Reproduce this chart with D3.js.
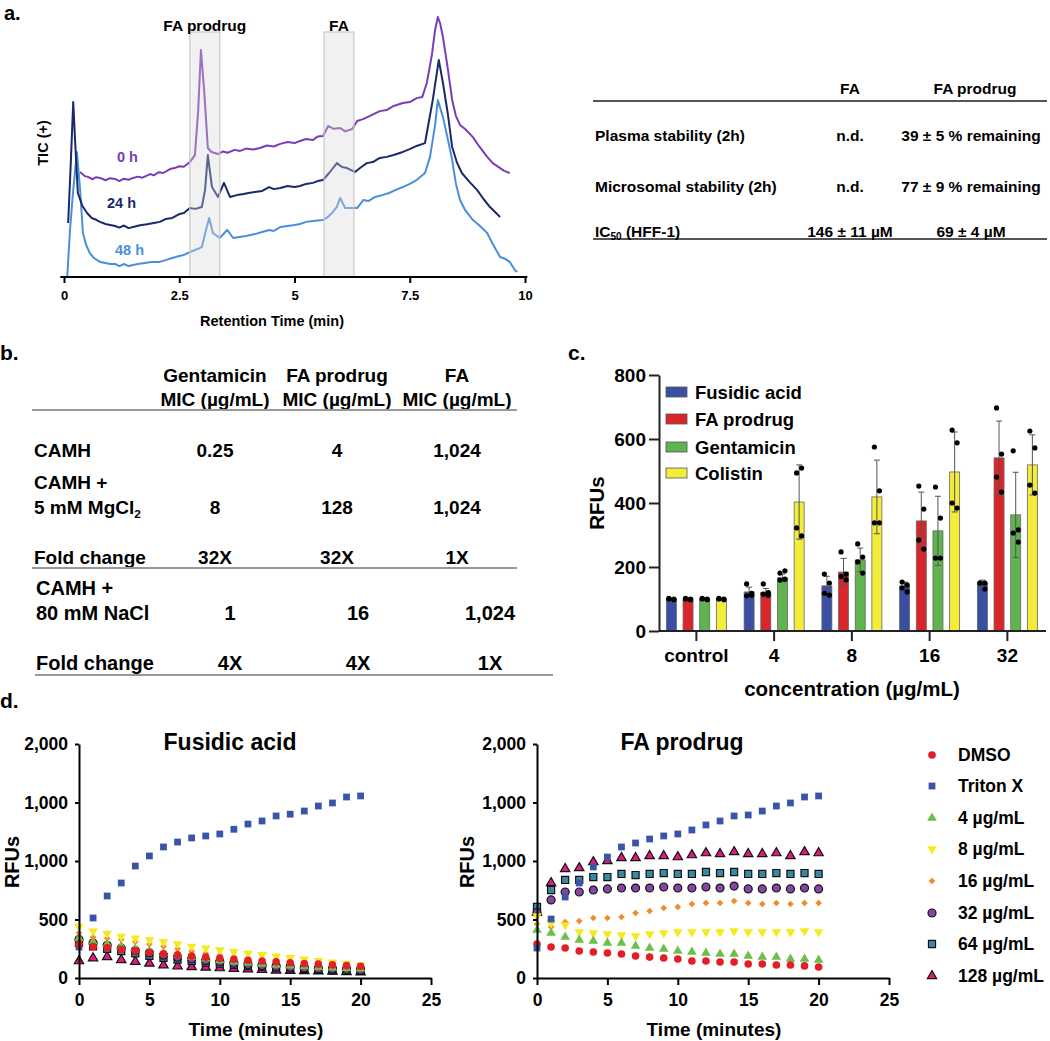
<!DOCTYPE html>
<html><head><meta charset="utf-8">
<script src="https://cdn.jsdelivr.net/npm/d3@7"></script>
<style>
body{margin:0;background:#fff;}
svg text{font-family:"Liberation Sans",Arial,Helvetica,sans-serif;font-weight:bold;fill:#000;}
</style></head><body>
<svg id="fig" width="1050" height="1041"></svg>
<script>
// ---------------- DATA ----------------
// Panel a: chromatograms [retention time (min), relative TIC]
const trace0h = [[0.35,40.4],[0.45,38.8],[0.52,38.5],[0.62,37.6],[0.7,38.4],[0.78,38.1],[0.9,37.2],[1.0,38.0],[1.11,37.7],[1.2,36.9],[1.3,37.8],[1.4,37.4],[1.5,38.1],[1.6,38.6],[1.7,38.2],[1.87,39.6],[1.95,39.1],[2.05,40.3],[2.15,40.0],[2.3,41.5],[2.4,41.9],[2.5,42.6],[2.6,42.4],[2.73,44.2],[2.84,46.9],[2.91,63.8],[2.97,87.3],[3.04,71.9],[3.12,49.6],[3.2,48.1],[3.34,47.3],[3.45,48.3],[3.55,47.8],[3.7,48.9],[3.82,48.5],[3.95,49.4],[4.1,49.0],[4.25,49.6],[4.4,50.6],[4.55,50.2],[4.69,51.2],[4.85,51.9],[5.0,51.5],[5.12,52.3],[5.25,53.1],[5.4,52.7],[5.5,54.0],[5.62,54.2],[5.73,58.1],[5.85,57.0],[5.99,57.3],[6.1,56.0],[6.25,56.9],[6.36,60.0],[6.5,60.8],[6.65,62.1],[6.85,63.8],[7.0,64.2],[7.15,65.8],[7.35,66.9],[7.5,67.3],[7.65,68.8],[7.77,69.2],[7.87,74.6],[7.98,85.4],[8.05,95.0],[8.11,100],[8.16,97.5],[8.22,92.3],[8.33,79.6],[8.42,68.1],[8.5,62.0],[8.59,58.5],[8.7,56.9],[8.87,53.8],[9.0,50.4],[9.18,46.2],[9.3,43.8],[9.46,41.9],[9.55,40.8],[9.67,40.0]];
const trace24h = [[0.09,20.8],[0.15,45.0],[0.2,67.3],[0.24,52.7],[0.3,32.3],[0.4,27.3],[0.5,24.6],[0.6,22.7],[0.7,22.0],[0.78,21.2],[0.9,20.4],[1.0,20.0],[1.11,19.6],[1.2,19.0],[1.3,19.8],[1.4,18.8],[1.5,19.2],[1.65,19.9],[1.8,20.3],[1.95,20.8],[2.08,21.2],[2.2,22.3],[2.35,22.7],[2.5,24.2],[2.6,24.6],[2.73,26.5],[2.85,26.2],[2.99,26.9],[3.06,33.5],[3.12,46.9],[3.17,40.0],[3.21,34.6],[3.34,30.8],[3.47,36.2],[3.6,30.8],[3.75,31.5],[3.9,31.9],[4.0,32.3],[4.14,32.7],[4.3,33.1],[4.45,34.6],[4.55,33.8],[4.69,34.2],[4.85,35.0],[5.0,34.6],[5.12,35.0],[5.25,35.8],[5.4,36.2],[5.5,36.9],[5.62,37.3],[5.75,40.0],[5.92,43.8],[6.03,42.3],[6.14,41.9],[6.31,40.4],[6.45,42.3],[6.57,43.8],[6.7,44.2],[6.85,45.8],[7.0,46.2],[7.15,46.9],[7.35,48.1],[7.5,49.2],[7.65,50.4],[7.83,51.5],[7.87,55.4],[8.0,68.1],[8.13,83.5],[8.22,74.6],[8.33,62.3],[8.42,50.0],[8.52,44.2],[8.63,40.0],[8.8,36.5],[8.96,33.5],[9.1,30.0],[9.24,26.9],[9.35,25.0],[9.46,23.1]];
const trace48h = [[0.07,0],[0.13,18.1],[0.2,33.5],[0.28,48.1],[0.35,33.5],[0.41,16.9],[0.48,12.3],[0.56,9.2],[0.65,7.3],[0.78,5.8],[0.9,5.4],[1.0,5.0],[1.11,5.0],[1.2,4.2],[1.3,5.0],[1.4,4.2],[1.5,4.6],[1.6,5.0],[1.75,5.4],[1.9,5.8],[2.08,5.8],[2.2,6.5],[2.35,7.3],[2.5,8.1],[2.6,8.5],[2.73,9.6],[2.85,10.4],[2.99,11.5],[3.08,18.1],[3.15,22.7],[3.23,16.9],[3.38,15.0],[3.54,18.1],[3.67,15.0],[3.8,15.4],[3.95,15.8],[4.14,16.5],[4.3,17.3],[4.45,18.1],[4.55,17.7],[4.69,19.2],[4.85,19.6],[5.0,20.0],[5.12,20.4],[5.25,21.2],[5.4,21.5],[5.62,21.9],[5.72,23.0],[5.81,24.6],[5.92,27.0],[5.99,30.4],[6.1,26.5],[6.25,26.5],[6.36,26.5],[6.49,29.6],[6.6,29.2],[6.75,30.8],[6.9,31.5],[7.05,32.3],[7.2,33.5],[7.35,34.6],[7.5,35.8],[7.65,37.3],[7.83,40.0],[7.94,46.2],[8.05,58.5],[8.11,68.1],[8.22,61.5],[8.33,52.7],[8.42,45.0],[8.5,36.0],[8.59,29.6],[8.7,25.8],[8.87,21.9],[9.0,20.0],[9.18,16.9],[9.3,12.7],[9.46,7.7],[9.58,6.9],[9.67,5.8],[9.78,2.7],[9.83,1.9]];
const traceLabels = ["0 h", "24 h", "48 h"];
const bandProdrug = [2.73, 3.38];
const bandFA = [5.64, 6.29];
const bandLabels = ["FA prodrug", "FA"];
const chromTicks = [0, 2.5, 5, 7.5, 10];

// Panel a table
const tableAColumns = ["FA", "FA prodrug"];
const tableARowLabels = ["Plasma stability (2h)", "Microsomal stability (2h)", "IC50 (HFF-1)"];
const tableAFA = ["n.d.", "n.d.", "146 ± 11 µM"];
const tableAProdrug = ["39 ± 5 % remaining", "77 ± 9 % remaining", "69 ± 4 µM"];

// Panel b table
const tableBHead1 = ["Gentamicin", "FA prodrug", "FA"];
const tableBHead2 = ["MIC (µg/mL)", "MIC (µg/mL)", "MIC (µg/mL)"];
const tableBMg = [["CAMH"], ["CAMH +", "5 mM MgCl2"], ["Fold change"]];
const tableBMgVals = [["0.25", "4", "1,024"], ["8", "128", "1,024"], ["32X", "32X", "1X"]];
const tableBNa = [["CAMH +", "80 mM NaCl"], ["Fold change"]];
const tableBNaVals = [["1", "16", "1,024"], ["4X", "4X", "1X"]];

// Panel c
const concCategories = ["control", "4", "8", "16", "32"];
const seriesC = ["Fusidic acid", "FA prodrug", "Gentamicin", "Colistin"];
const meanFA = [100, 122, 141, 141, 150];
const meanProdrug = [100, 121, 184, 344, 541];
const meanGent = [100, 166, 222, 313, 363];
const meanColistin = [100, 403, 419, 497, 519];
const sdFA = [3, 15, 30, 12, 9];
const sdProdrug = [3, 12, 43, 90, 115];
const sdGent = [3, 12, 37, 108, 133];
const sdColistin = [3, 116, 115, 125, 94];
const ptsFA = [[100,98,102,100],[147,118,110,112],[178,150,118,112],[153,144,134,122],[150,150,150,131]];
const ptsProdrug = [[100,98,102,100],[147,120,115,112],[247,178,170,160],[453,381,284,256],[697,553,481,434]];
const ptsGent = [[100,98,102,100],[181,188,159,162],[272,231,216,181],[450,353,228,228],[563,316,306,278]];
const ptsColistin = [[100,98,102,100],[494,509,322,297],[575,438,338,338],[628,588,400,384],[625,572,456,431]];
const yTicksC = [0, 200, 400, 600, 800];

// Panel d
const timesD = [0,1,2,3,4,5,6,7,8,9,10,11,12,13,14,15,16,17,18,19,20];
const legendD = ["DMSO", "Triton X", "4 µg/mL", "8 µg/mL", "16 µg/mL", "32 µg/mL", "64 µg/mL", "128 µg/mL"];
const yTickValsD = [0, 500, 1000, 1500, 2000];
const yTickLabelsD = ["0", "500", "1,000", "1,000", "2,000"];
const xTicksD = [0, 5, 10, 15, 20, 25];
// Fusidic acid
const faDMSO  = [290,268,258,244,232,218,207,197,187,178,168,160,152,145,138,130,124,118,112,106,100];
const faTriton= [265,513,701,812,957,1043,1120,1162,1197,1214,1231,1271,1316,1342,1385,1400,1427,1470,1496,1547,1556];
const fa4     = [340,310,290,270,250,230,210,195,180,165,150,140,130,120,112,105,98,92,88,84,80];
const fa8     = [440,400,380,355,340,325,310,290,270,255,240,225,212,198,185,172,160,148,135,122,110];
const fa16    = [385,350,340,330,310,290,270,250,230,210,195,180,165,150,140,130,120,110,100,95,90];
const fa32    = [330,300,280,255,235,215,195,178,162,150,138,126,116,106,98,92,86,80,76,72,68];
const fa64    = [300,270,250,230,210,190,172,158,144,132,122,112,104,96,88,82,76,70,66,62,60];
const fa128   = [145,170,180,155,140,125,110,100,95,90,85,80,75,70,65,62,60,58,55,52,50];
// FA prodrug
const pdDMSO  = [291,265,256,231,222,214,205,188,179,171,162,145,145,137,137,120,120,111,111,103,94];
const pdTriton= [256,504,692,812,949,1034,1120,1154,1188,1214,1231,1265,1308,1342,1385,1393,1427,1470,1496,1547,1556];
const pd4     = [410,385,350,325,316,299,299,273,256,248,231,222,214,205,205,188,179,179,162,162,154];
const pd8     = [530,470,453,393,385,376,368,359,376,385,393,393,393,393,402,393,393,393,393,402,393];
const pd16    = [462,436,479,487,513,513,521,556,573,598,607,632,641,641,658,641,632,641,632,641,641];
const pd32    = [560,667,735,735,752,761,769,769,769,778,769,769,778,769,786,761,761,769,761,769,761];
const pd64    = [607,752,838,838,863,863,889,880,889,897,889,889,906,897,906,889,889,897,889,897,889];
const pd128   = [560,812,932,940,991,1000,1026,1026,1043,1043,1034,1051,1068,1060,1077,1060,1060,1068,1043,1077,1068];

// ---------------- DRAW ----------------
const svg = d3.select("#fig");
function T(g, x, y, s, size, anchor, base) {
  return g.append("text").attr("x", x).attr("y", y).attr("font-size", size)
    .attr("text-anchor", anchor || "start").attr("dominant-baseline", base || "central").text(s);
}
// panel letters
T(svg, 4, 20, "a.", 20, "start", "auto");
T(svg, 0, 360, "b.", 21, "start", "auto");
T(svg, 568, 360, "c.", 21, "start", "auto");
T(svg, 0, 708, "d.", 21, "start", "auto");

// ===== Panel a chromatogram =====
const xA = d3.scaleLinear().domain([0, 10]).range([64, 525]);
const yA = d3.scaleLinear().domain([0, 100]).range([277, 17]);
const gA = svg.append("g");
const chromColors = ["#7a3db8", "#19296a", "#4a8fdc"];
const line = d3.line().x(d => xA(d[0])).y(d => yA(d[1]));
[trace48h, trace24h, trace0h].forEach((tr, i) => {
  gA.append("path").attr("d", line(tr)).attr("fill", "none")
    .attr("stroke", chromColors[2 - i]).attr("stroke-width", 2).attr("stroke-linejoin", "round");
});
[bandProdrug, bandFA].forEach((b, i) => {
  gA.append("rect").attr("x", xA(b[0])).attr("width", xA(b[1]) - xA(b[0]))
    .attr("y", 32).attr("height", yA(0) - 32)
    .attr("fill", "#d8d8d8").attr("fill-opacity", 0.35).attr("stroke", "#c8c8c8").attr("stroke-width", 1.2);
  T(gA, (xA(b[0]) + xA(b[1])) / 2, 25, bandLabels[i], 15.5, "middle");
});
const axA = gA.append("g").attr("transform", "translate(0,277)")
  .call(d3.axisBottom(xA).tickValues(chromTicks).tickFormat(d => d).tickSize(6).tickSizeOuter(0).tickPadding(8));
axA.select(".domain").attr("d", `M${xA(-0.08)},0H${xA(10.05)}`).attr("stroke-width", 2.2);
axA.selectAll(".tick line").attr("stroke-width", 2);
axA.selectAll(".tick text").attr("font-size", 13);
T(gA, 272, 321, "Retention Time (min)", 14.5, "middle");
T(gA, 0, 0, "TIC (+)", 14.5, "middle").attr("transform", "translate(43,143) rotate(-90)");
const labPos = [[117, 157], [107, 203], [115, 250]];
traceLabels.forEach((s, i) => T(gA, labPos[i][0], labPos[i][1], s, 14.5).style("fill", chromColors[i]));

// ===== Panel a table =====
const gTA = svg.append("g");
gTA.append("line").attr("x1", 593).attr("x2", 1047).attr("y1", 101).attr("y2", 101).attr("stroke", "#555").attr("stroke-width", 1.8);
gTA.append("line").attr("x1", 593).attr("x2", 1047).attr("y1", 239).attr("y2", 239).attr("stroke", "#555").attr("stroke-width", 1.8);
const colAX = [850, 975];
tableAColumns.forEach((c, i) => T(gTA, colAX[i], 88, c, 15.5, "middle"));
const rowAY = [135, 186, 231];
tableARowLabels.forEach((r, i) => {
  if (r.startsWith("IC50")) {
    const t = gTA.append("text").attr("x", 595).attr("y", rowAY[i]).attr("font-size", 15.5).attr("dominant-baseline", "central");
    t.append("tspan").text("IC");
    t.append("tspan").text("50").attr("font-size", 10).attr("dy", 5);
    t.append("tspan").text(r.slice(4)).attr("dy", -5);
  } else T(gTA, 595, rowAY[i], r, 15.5);
  T(gTA, colAX[0], rowAY[i], tableAFA[i], 15.5, "middle");
  T(gTA, colAX[1] - 4, rowAY[i], tableAProdrug[i], 15.5, "middle");
});

// ===== Panel b table =====
const gB = svg.append("g");
const colBX = [215, 337, 457];
tableBHead1.forEach((s, i) => T(gB, colBX[i], 375, s, 19, "middle"));
tableBHead2.forEach((s, i) => T(gB, colBX[i], 399, s, 19, "middle"));
function hline(g, x1, x2, y) { g.append("line").attr("x1", x1).attr("x2", x2).attr("y1", y).attr("y2", y).attr("stroke", "#999").attr("stroke-width", 2); }
hline(gB, 32, 517, 410);
function richLabel(g, x, y, s, size) {
  if (s.endsWith("MgCl2")) {
    const t = g.append("text").attr("x", x).attr("y", y).attr("font-size", size).attr("dominant-baseline", "central");
    t.append("tspan").text(s.slice(0, -1));
    t.append("tspan").text("2").attr("font-size", size * 0.62).attr("dy", 6);
  } else T(g, x, y, s, size);
}
const mgRowY = [[450], [482, 507], [557]];
tableBMg.forEach((lab, r) => {
  lab.forEach((s, k) => richLabel(gB, 34, mgRowY[r][k], s, 19));
  tableBMgVals[r].forEach((v, i) => T(gB, colBX[i], mgRowY[r][mgRowY[r].length - 1], v, 19, "middle"));
});
hline(gB, 32, 517, 568);
const colBX2 = [230, 358, 490];
const naRowY = [[588, 613], [663]];
tableBNa.forEach((lab, r) => {
  lab.forEach((s, k) => richLabel(gB, 36, naRowY[r][k], s, 20));
  tableBNaVals[r].forEach((v, i) => T(gB, colBX2[i], naRowY[r][naRowY[r].length - 1], v, 20, "middle"));
});
hline(gB, 35, 553, 675);

// ===== Panel c =====
const gC = svg.append("g");
const xC = d3.scaleBand().domain(concCategories).range([657.5, 1046.25]).padding(0);
const xSer = d3.scalePoint().domain(seriesC).range([-25, 25]);
const yC = d3.scaleLinear().domain([0, 800]).range([631, 375]);
const barColors = ["#3a4fa3", "#d8262b", "#5fb44f", "#f3ec3a"];
const means = [meanFA, meanProdrug, meanGent, meanColistin];
const sds = [sdFA, sdProdrug, sdGent, sdColistin];
const pts = [ptsFA, ptsProdrug, ptsGent, ptsColistin];
const barW = 10;
const jit = [-2.5, 2.5, -2.5, 2.5];
seriesC.forEach((s, si) => {
  concCategories.forEach((c, ci) => {
    const cx = xC(c) + xC.bandwidth() / 2 + xSer(s);
    const m = means[si][ci], sd = sds[si][ci];
    gC.append("rect").attr("x", cx - barW / 2).attr("width", barW).attr("y", yC(m)).attr("height", yC(0) - yC(m))
      .attr("fill", barColors[si]).attr("stroke", "#666").attr("stroke-width", 0.8);
    gC.append("line").attr("x1", cx).attr("x2", cx).attr("y1", yC(m + sd)).attr("y2", yC(m - sd)).attr("stroke", "#555").attr("stroke-width", 1);
    [m + sd, m - sd].forEach(v => gC.append("line").attr("x1", cx - 3).attr("x2", cx + 3).attr("y1", yC(v)).attr("y2", yC(v)).attr("stroke", "#555").attr("stroke-width", 1));
    pts[si][ci].forEach((v, k) => gC.append("circle").attr("cx", cx + jit[k]).attr("cy", yC(v)).attr("r", 2.6).attr("fill", "#000"));
  });
});
const axCy = gC.append("g").attr("transform", "translate(659,0)")
  .call(d3.axisLeft(yC).tickValues(yTicksC).tickSize(10).tickPadding(3).tickSizeOuter(0));
const axCx = gC.append("g").attr("transform", "translate(0,631)")
  .call(d3.axisBottom(xC).tickSize(10).tickPadding(8).tickSizeOuter(0));
axCx.select(".domain").attr("d", "M659,0H1046");
[axCy, axCx].forEach(a => { a.selectAll("path,line").attr("stroke", "#222").attr("stroke-width", 2); a.selectAll("text").attr("font-size", 19); });
T(gC, 852, 688, "concentration (µg/mL)", 20.5, "middle");
T(gC, 0, 0, "RFUs", 20.5, "middle").attr("transform", "translate(596,503) rotate(-90)");
const legCY = [392, 419, 447, 473];
seriesC.forEach((s, i) => {
  gC.append("rect").attr("x", 666).attr("y", legCY[i] - 5).attr("width", 21).attr("height", 10).attr("fill", barColors[i]).attr("stroke", "#555").attr("stroke-width", 0.8);
  T(gC, 695, legCY[i], s, 18.5);
});

// ===== Panel d =====
const yD = d3.scaleLinear().domain([0, 2000]).range([978, 744]);
const markerDefs = [
  { color: "#e31f26", sym: d3.symbolCircle, size: 46, stroke: "none", rot: 0 },
  { color: "#3b55a6", sym: d3.symbolSquare, size: 46, stroke: "none", rot: 0 },
  { color: "#6cbf4a", sym: d3.symbolTriangle, size: 40, stroke: "none", rot: 0 },
  { color: "#f4ea1c", sym: d3.symbolTriangle, size: 40, stroke: "none", rot: 180 },
  { color: "#f08a2b", sym: d3.symbolSquare, size: 22, stroke: "none", rot: 45 },
  { color: "#8645a0", sym: d3.symbolCircle, size: 50, stroke: "#111", rot: 0 },
  { color: "#3a87a6", sym: d3.symbolSquare, size: 50, stroke: "#111", rot: 0 },
  { color: "#e2197f", sym: d3.symbolTriangle, size: 38, stroke: "#111", rot: 0 }
];
function marker(g, x, y, k) {
  const m = markerDefs[k];
  g.append("path").attr("d", d3.symbol().type(m.sym).size(m.size)())
    .attr("transform", `translate(${x},${y}) rotate(${m.rot})`)
    .attr("fill", m.color).attr("stroke", m.stroke).attr("stroke-width", m.stroke === "none" ? 0 : 1.2);
}
function scatterPanel(x0, title, titleX, seriesArr, order) {
  const g = svg.append("g");
  const xD = d3.scaleLinear().domain([0, 25]).range([x0, x0 + 352]);
  order.forEach(k => seriesArr[k].forEach((v, i) => marker(g, xD(timesD[i]), yD(v), k)));
  const ax = g.append("g").attr("transform", "translate(0,978)")
    .call(d3.axisBottom(xD).tickValues(xTicksD).tickSize(7).tickPadding(9).tickSizeOuter(0));
  const ay = g.append("g").attr("transform", `translate(${x0},0)`)
    .call(d3.axisLeft(yD).tickValues(yTickValsD).tickFormat((d, i) => yTickLabelsD[i]).tickSize(4).tickPadding(7).tickSizeOuter(0));
  [ax, ay].forEach(a => { a.selectAll("path,line").attr("stroke", "#000").attr("stroke-width", 2); a.selectAll("text").attr("font-size", 17.5); });
  T(g, titleX, 742, title, 23, "middle");
  T(g, (xD(0) + xD(25)) / 2 + 1, 1029, "Time (minutes)", 19, "middle");
  return g;
}
const faSeries = [faDMSO, faTriton, fa4, fa8, fa16, fa32, fa64, fa128];
const pdSeries = [pdDMSO, pdTriton, pd4, pd8, pd16, pd32, pd64, pd128];
scatterPanel(79, "Fusidic acid", 230, faSeries, [7, 6, 5, 2, 4, 3, 1, 0]);
T(svg, 0, 0, "RFUs", 20, "middle").attr("transform", "translate(12,862) rotate(-90)");
scatterPanel(537, "FA prodrug", 682, pdSeries, [7, 6, 5, 4, 3, 2, 0, 1]);
T(svg, 0, 0, "RFUs", 20, "middle").attr("transform", "translate(467,862) rotate(-90)");
const legDY = [755, 786, 818, 849, 881, 913, 944, 976];
legendD.forEach((s, i) => { marker(svg, 932, legDY[i], i); T(svg, 958, legDY[i], s, 17.5); });
</script>
</body></html>
